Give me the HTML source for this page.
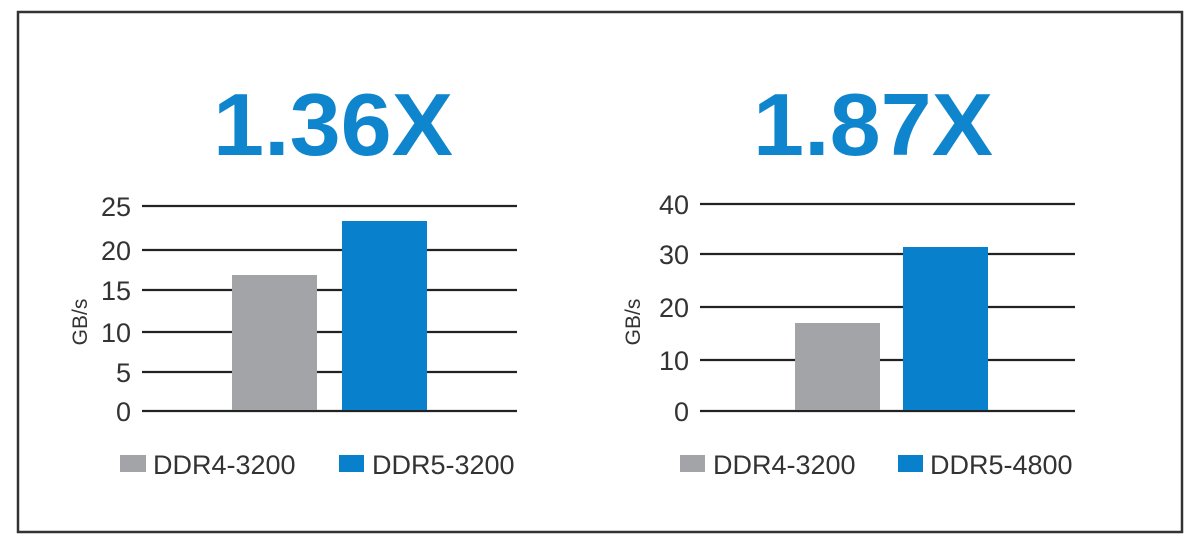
<!DOCTYPE html>
<html><head><meta charset="utf-8"><style>
body{margin:0;background:#fff;}
svg{display:block;font-family:"Liberation Sans",Arial,sans-serif;}
</style></head><body>
<svg width="1200" height="548" viewBox="0 0 1200 548">
<rect x="18" y="12" width="1164" height="520" fill="#fff" stroke="#333" stroke-width="2.5"/>
<g font-weight="bold" fill="#0e85cc" font-size="88">
<text x="213" y="155" textLength="240" lengthAdjust="spacingAndGlyphs">1.36X</text>
<text x="753" y="155" textLength="240" lengthAdjust="spacingAndGlyphs">1.87X</text>
</g>
<g stroke="#222" stroke-width="2.2">
<line x1="142" x2="517" y1="206" y2="206"/><line x1="142" x2="517" y1="250" y2="250"/>
<line x1="142" x2="517" y1="290" y2="290"/><line x1="142" x2="517" y1="332" y2="332"/>
<line x1="142" x2="517" y1="372" y2="372"/><line x1="142" x2="517" y1="411" y2="411"/>
<line x1="700" x2="1075" y1="204" y2="204"/><line x1="700" x2="1075" y1="254" y2="254"/>
<line x1="700" x2="1075" y1="307" y2="307"/><line x1="700" x2="1075" y1="360" y2="360"/>
<line x1="700" x2="1075" y1="411" y2="411"/>
</g>
<rect x="232" y="275" width="85" height="135" fill="#a2a4a7"/>
<rect x="342" y="221" width="85" height="189" fill="#0880cc"/>
<rect x="795" y="323" width="85" height="87" fill="#a2a4a7"/>
<rect x="903" y="247" width="85" height="163" fill="#0880cc"/>
<g font-size="27" fill="#333" text-anchor="end">
<text x="131" y="216">25</text><text x="131" y="260">20</text><text x="131" y="300">15</text>
<text x="131" y="342">10</text><text x="131" y="382">5</text><text x="131" y="421">0</text>
<text x="689" y="214">40</text><text x="689" y="264">30</text><text x="689" y="317">20</text>
<text x="689" y="370">10</text><text x="689" y="421">0</text>
</g>
<g font-size="21" fill="#333" text-anchor="middle">
<text transform="translate(87,322) rotate(-90)">GB/s</text>
<text transform="translate(640,322) rotate(-90)">GB/s</text>
</g>
<rect x="120" y="455" width="26" height="17" fill="#a2a4a7"/>
<rect x="339" y="455" width="25" height="17" fill="#0880cc"/>
<rect x="680" y="455" width="25" height="17" fill="#a2a4a7"/>
<rect x="898" y="455" width="25" height="17" fill="#0880cc"/>
<g font-size="27" fill="#333">
<text x="153" y="474">DDR4-3200</text><text x="372" y="474">DDR5-3200</text>
<text x="713" y="474">DDR4-3200</text><text x="930" y="474">DDR5-4800</text>
</g>
</svg>
</body></html>
